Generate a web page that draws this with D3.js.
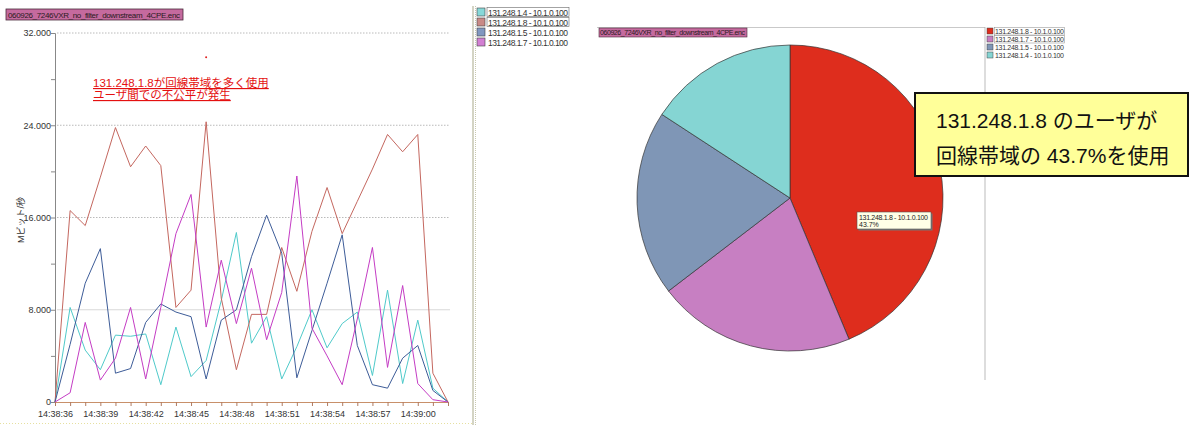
<!DOCTYPE html>
<html>
<head>
<meta charset="utf-8">
<script src="https://cdn.jsdelivr.net/npm/d3@7"></script>
<style>
  body { margin: 0; background: #fff; }
  svg { display: block; font-family: 'Liberation Sans', 'Noto Sans CJK JP', sans-serif; }
</style>
</head>
<body>
<div class="container"></div>
<script>
// line chart data (Mbit/s, one sample per second from 14:38:36)
const startTime = '14:38:36'
const tickLabels = ['14:38:36', '14:38:39', '14:38:42', '14:38:45', '14:38:48', '14:38:51', '14:38:54', '14:38:57', '14:39:00']
const yTicks = [0, 8, 16, 24, 32]
const seriesNames = ['131.248.1.4 - 10.1.0.100', '131.248.1.8 - 10.1.0.100', '131.248.1.5 - 10.1.0.100', '131.248.1.7 - 10.1.0.100']
const host14 = [0, 8.2, 4.5, 2.8, 5.8, 5.7, 5.9, 1.5, 6.5, 2.2, 3.6, 8.8, 14.7, 5.1, 7.4, 2.0, 4.8, 8.0, 4.7, 6.8, 7.8, 2.3, 9.7, 1.6, 7.1, 1.2, 0]
const host18 = [0, 16.6, 15.3, 19.5, 23.8, 20.4, 22.2, 20.5, 8.2, 9.7, 24.3, 9.0, 2.8, 7.6, 7.6, 13.4, 9.6, 14.8, 18.6, 14.6, 17.4, 20.2, 23.2, 21.7, 23.2, 2.5, 0]
const host15 = [0, 5.0, 10.3, 13.3, 2.5, 2.9, 6.9, 8.5, 7.8, 7.4, 2.0, 7.1, 8.0, 12.6, 16.2, 12.9, 2.1, 6.2, 10.3, 14.5, 4.9, 1.5, 1.2, 3.8, 4.9, 1.0, 0]
const host17 = [0, 0.8, 6.9, 1.9, 3.8, 8.2, 2.0, 8.2, 14.6, 18.0, 6.5, 12.3, 6.8, 11.6, 5.4, 9.5, 19.6, 6.4, 4.0, 1.5, 7.2, 13.4, 3.0, 10.1, 1.6, 0.2, 0]
const strayPoint = [10, 29.9]

// pie data
const pieNames = ['131.248.1.8 - 10.1.0.100', '131.248.1.7 - 10.1.0.100', '131.248.1.5 - 10.1.0.100', '131.248.1.4 - 10.1.0.100']
const pieShares = [43.7, 20.9, 19.6, 15.8]

const fileName = '060926_7246VXR_no_filter_downstream_4CPE.enc'

const svg = d3.select('.container').append('svg')
    .attr('width', 1194)
    .attr('height', 425)

// ---------- left: line chart ----------
const parseT = d3.timeParse('%H:%M:%S')
const t0 = parseT(startTime)
const timeAt = i => d3.timeSecond.offset(t0, i)

const x = d3.scaleTime()
    .domain([t0, timeAt(26)])
    .range([55, 448])
const y = d3.scaleLinear()
    .domain([0, 32])
    .range([402, 33])

const lineColors = ['#4fcaca', '#c4675f', '#3d5c98', '#c43cc4']
const legendColors = ['#86d8d8', '#c98a86', '#8198c0', '#d27fd2']

// title tag
svg.append('rect').attr('x', 6).attr('y', 9).attr('width', 177).attr('height', 11)
    .attr('fill', '#c56a9e').attr('stroke', '#4a2a3a').attr('stroke-width', 0.8)
svg.append('text').attr('x', 8).attr('y', 17.5).text(fileName)
    .style('font-size', '8px').attr('fill', '#2a1a22').attr('textLength', 172)

// grid
svg.selectAll('.grid').data(yTicks.filter(d => d > 0)).join('line')
    .attr('x1', 57).attr('x2', 450)
    .attr('y1', d => y(d)).attr('y2', d => y(d))
    .attr('stroke', d => d === 8 ? '#cfcfcf' : '#a8a8a8')
    .attr('stroke-dasharray', d => d === 8 ? null : '1.5,1.5')
    .attr('stroke-width', 0.8)

// y axis
const yAxis = d3.axisLeft(y).tickValues(d3.range(0, 33, 4)).tickSize(4)
    .tickFormat(d => yTicks.includes(d) ? (d === 0 ? '0' : d3.format('.3f')(d)) : '')
const gy = svg.append('g').attr('transform', 'translate(55,0)').call(yAxis)
gy.select('.domain').attr('stroke', '#888')
gy.selectAll('.tick line').attr('stroke', '#888')
gy.selectAll('.tick text').style('font-size', '9px').attr('fill', '#333').attr('x', -4)

svg.append('text').text('Mビット/秒')
    .attr('transform', 'translate(24,220) rotate(-90)')
    .style('text-anchor', 'middle').style('font-size', '9px').attr('fill', '#333')

// x axis
const xAxis = d3.axisBottom(x).ticks(d3.timeSecond.every(1)).tickSize(4)
    .tickFormat(d => {
        const s = d3.timeFormat('%H:%M:%S')(d)
        return tickLabels.includes(s) ? s : ''
    })
const gx = svg.append('g').attr('transform', 'translate(0,402)').call(xAxis)
gx.select('.domain').attr('stroke', '#c8906a')
gx.selectAll('.tick line').attr('stroke', '#b07a60')
gx.selectAll('.tick text').style('font-size', '9px').attr('fill', '#333').attr('dy', '0.85em')

// series lines
const seriesData = [host14, host18, host15, host17]
const line = d3.line()
    .x((d, i) => x(timeAt(i)))
    .y(d => y(d))
svg.selectAll('.series').data(seriesData).join('path')
    .attr('d', line)
    .attr('fill', 'none')
    .attr('stroke', (d, i) => lineColors[i])
    .attr('stroke-width', 1)

svg.append('circle')
    .attr('cx', x(timeAt(strayPoint[0]))).attr('cy', y(strayPoint[1]))
    .attr('r', 1).attr('fill', '#e02020')

// annotation
const notes = ['131.248.1.8が回線帯域を多く使用', 'ユーザ間での不公平が発生']
svg.selectAll('.note').data(notes).join('text')
    .attr('x', 93).attr('y', (d, i) => 87 + i * 12)
    .text(d => d)
    .style('font-size', '11.5px')
    .style('text-decoration', 'underline')
    .attr('fill', '#e41010')

// divider
svg.append('line').attr('x1', 473).attr('x2', 473).attr('y1', 6).attr('y2', 425)
    .attr('stroke', '#a9a98a').attr('stroke-width', 1)
svg.append('line').attr('x1', 475.5).attr('x2', 475.5).attr('y1', 6).attr('y2', 425)
    .attr('stroke', '#c8c8b0').attr('stroke-width', 1).attr('stroke-dasharray', '1,1')
svg.append('line').attr('x1', 0).attr('x2', 472).attr('y1', 423.5).attr('y2', 423.5)
    .attr('stroke', '#e6e0a0').attr('stroke-dasharray', '1,2')

// legend
const leg = svg.selectAll('.leg').data(seriesNames).join('g')
    .attr('transform', (d, i) => `translate(477,${8 + i * 10})`)
leg.append('rect').attr('width', 8).attr('height', 8)
    .attr('fill', (d, i) => legendColors[i]).attr('stroke', '#444').attr('stroke-width', 0.6)
leg.filter((d, i) => i < 2).append('rect')
    .attr('x', 10).attr('y', -0.5).attr('width', 82).attr('height', 9)
    .attr('fill', 'none').attr('stroke', '#666').attr('stroke-width', 0.6)
leg.append('text').attr('x', 11).attr('y', 7.5).text(d => d)
    .style('font-size', '8.5px').attr('fill', '#333').attr('textLength', 80)

// ---------- right: pie chart ----------
svg.append('line').attr('x1', 597).attr('x2', 985).attr('y1', 27.5).attr('y2', 27.5)
    .attr('stroke', '#bbb').attr('stroke-width', 0.8)
svg.append('rect').attr('x', 599).attr('y', 28).attr('width', 148).attr('height', 9)
    .attr('fill', '#c56a9e').attr('stroke', '#4a2a3a').attr('stroke-width', 0.6)
svg.append('text').attr('x', 600).attr('y', 35).text(fileName)
    .style('font-size', '7px').attr('fill', '#2a1a22').attr('textLength', 145)

const pieColors = ['#de2d1d', '#c77fc2', '#7f96b6', '#85d5d3']
const pie = d3.pie().sort(null).value(d => d)
const arcs = pie(pieShares)
const arc = d3.arc().innerRadius(0).outerRadius(153)

const gp = svg.append('g').attr('transform', 'translate(790,198)')
gp.selectAll('path').data(arcs).join('path')
    .attr('d', arc)
    .attr('fill', (d, i) => pieColors[i])
    .attr('stroke', '#333')
    .attr('stroke-width', 0.7)

// slice tooltip label
const lab = svg.append('g').attr('transform', 'translate(857,212)')
lab.append('rect').attr('x', 1.5).attr('y', 1.5).attr('width', 74).attr('height', 17).attr('fill', '#777')
lab.append('rect').attr('width', 74).attr('height', 17)
    .attr('fill', '#ffffe6').attr('stroke', '#555').attr('stroke-width', 0.6)
lab.append('text').attr('x', 2).attr('y', 7.5).text(pieNames[0])
    .style('font-size', '7px').attr('fill', '#222').attr('textLength', 69)
lab.append('text').attr('x', 2).attr('y', 14.5).text(pieShares[0] + '%')
    .style('font-size', '7px').attr('fill', '#222')

// pie legend
svg.append('line').attr('x1', 985).attr('x2', 985).attr('y1', 27).attr('y2', 380)
    .attr('stroke', '#aaa').attr('stroke-width', 0.8)
const pleg = svg.selectAll('.pleg').data(pieNames).join('g')
    .attr('transform', (d, i) => `translate(987,${28 + i * 8})`)
pleg.append('rect').attr('width', 6).attr('height', 6)
    .attr('fill', (d, i) => pieColors[i]).attr('stroke', '#444').attr('stroke-width', 0.5)
pleg.filter((d, i) => i < 2).append('rect')
    .attr('x', 7.5).attr('y', -0.5).attr('width', 70).attr('height', 7.5)
    .attr('fill', 'none').attr('stroke', '#888').attr('stroke-width', 0.5)
pleg.append('text').attr('x', 8).attr('y', 6).text(d => d)
    .style('font-size', '7px').attr('fill', '#333').attr('textLength', 69)

// callout
svg.append('rect').attr('x', 915).attr('y', 93).attr('width', 273).attr('height', 83)
    .attr('fill', '#ffff99').attr('stroke', '#111').attr('stroke-width', 2)
const callout = ['131.248.1.8 のユーザが', '回線帯域の 43.7%を使用']
svg.selectAll('.callout').data(callout).join('text')
    .attr('x', 936).attr('y', (d, i) => 128 + i * 35)
    .text(d => d)
    .style('font-size', '21px').attr('fill', '#111')
</script>
</body>
</html>
